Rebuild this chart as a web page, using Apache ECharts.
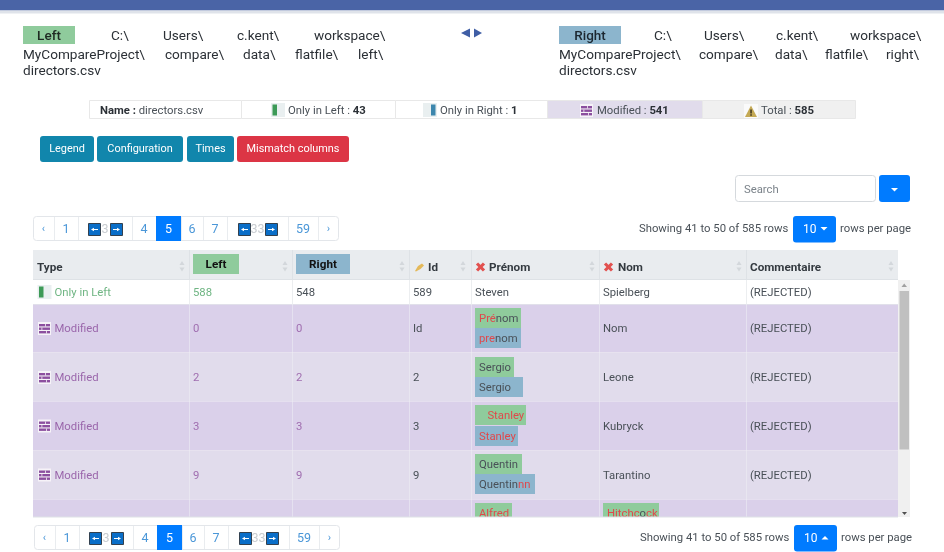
<!DOCTYPE html>
<html>
<head>
<meta charset="utf-8">
<style>
  html, body { margin: 0; padding: 0; background: #fff; }
  #main { width: 944px; height: 552px; }
</style>
<script src="https://cdn.jsdelivr.net/npm/echarts@6/dist/echarts.min.js"></script>
</head>
<body>
<div id="main"></div>
<script>
// texts, [..] marks the changed letters
const leftPath = ['C:\\', 'Users\\', 'c.kent\\', 'workspace\\', 'MyCompareProject\\', 'compare\\', 'data\\', 'flatfile\\', 'left\\', 'directors.csv']
const rightPath = ['C:\\', 'Users\\', 'c.kent\\', 'workspace\\', 'MyCompareProject\\', 'compare\\', 'data\\', 'flatfile\\', 'right\\', 'directors.csv']
const statLabels = ['Name : ', 'Only in Left : ', 'Only in Right : ', 'Modified : ', 'Total : ']
const statValues = ['directors.csv', 43, 1, 541, 585]
const buttonLabels = ['Legend', 'Configuration', 'Times', 'Mismatch columns']
const pageLabels = ['‹', '1', '3', '4', '5', '6', '7', '33', '59', '›']
const headers = ['Type', 'Left', 'Right', 'Id', 'Prénom', 'Nom', 'Commentaire']
const rowTypes = ['Only in Left', 'Modified', 'Modified', 'Modified', 'Modified', 'Modified']
const leftValues = [588, 0, 2, 3, 9]
const rightValues = [548, 0, 2, 3, 9]
const idValues = [589, 'Id', 2, 3, 9]
const prenomLeft = ['Steven', '[Pré]nom', 'Sergio', '[   Stanley]', 'Quentin', '[Alfred]']
const prenomRight = [null, '[pre]nom', 'Sergio', '[Stanley]', 'Quentin[nn]']
const nomLeft = ['Spielberg', 'Nom', 'Leone', 'Kubryck', 'Tarantino', '[Hitchc]o[ck]']
const comments = ['(REJECTED)', '(REJECTED)', '(REJECTED)', '(REJECTED)', '(REJECTED)']
const showing = 'Showing 41 to 50 of 585 rows'
const perPage = 'rows per page'

const FONT = 'Roboto, sans-serif'
const BODY = 11.3
const TEXT = '#495057'
const RED = '#e0484c'
const GREEN_BADGE = '#8fcb9c'
const BLUE_BADGE = '#8cb5cd'
const PURPLE_A = '#dad0ea'
const PURPLE_B = '#e1dcec'

const els = []

function box(x, y, w, h, fill, stroke, r) {
  els.push({
    type: 'rect',
    shape: { x, y, width: w, height: h, r: r || 0 },
    style: { fill: fill || 'transparent', stroke: stroke || null, lineWidth: stroke ? 1 : 0 },
    silent: true
  })
}

function label(text, x, y, opt) {
  opt = opt || {}
  els.push({
    type: 'text',
    x,
    y: y + 0.7,
    silent: true,
    style: {
      text: String(text),
      fontFamily: FONT,
      fontSize: opt.size || BODY,
      fontWeight: opt.weight || 400,
      fill: opt.color || TEXT,
      align: opt.align || 'left',
      verticalAlign: 'middle',
      rich: opt.rich
    }
  })
}

function poly(points, fill) {
  els.push({ type: 'polygon', shape: { points }, style: { fill }, silent: true })
}

// turns 'Quentin[nn]' into rich text, changed letters in red
function diffText(str, x, y) {
  const s = str.replace(/ /g, '\u00a0').replace(/\[/g, '{c|').replace(/\]/g, '}')
    .replace(/(^|\})([^{}]+)(?=\{|$)/g, '$1{n|$2}')
  label(s, x, y, {
    rich: {
      c: { fill: RED, fontFamily: FONT, fontSize: BODY },
      n: { fill: TEXT, fontFamily: FONT, fontSize: BODY }
    }
  })
}

function pathWords(words, xs, y0) {
  words.forEach((w, i) => {
    const y = i < 4 ? y0 : i < 9 ? y0 + 19 : y0 + 35
    label(w, xs[i], y, { size: 13.6, color: '#2b3036' })
  })
}

function iconOnlyLeft(x, y) {
  box(x, y, 14, 14, '#e9eff0')
  box(x + 1.5, y + 1.5, 4.5, 11, '#3d9a57')
}

function iconOnlyRight(x, y) {
  box(x, y, 14, 14, '#e9eff0')
  box(x + 8, y + 1.5, 4.5, 11, '#3d86ad')
}

function iconModified(x, y) {
  box(x, y, 13, 13, '#f6f3f8')
  box(x + 1, y + 2, 11, 2.4, '#8c4f9f')
  box(x + 1, y + 5.5, 11, 2.4, '#8c4f9f')
  box(x + 1, y + 9, 11, 2.4, '#8c4f9f')
  box(x + 7, y + 2, 0.8, 2.4, '#f6f3f8')
  box(x + 3.5, y + 5.5, 0.8, 2.4, '#f6f3f8')
  box(x + 8, y + 9, 0.8, 2.4, '#f6f3f8')
}

function iconWarn(x, y) {
  box(x, y, 14, 14, '#fafafa')
  poly([[x + 7, y + 1.5], [x + 13, y + 13], [x + 1, y + 13]], '#c4a955')
  box(x + 6.3, y + 5.5, 1.5, 4, '#3a3320')
  box(x + 6.3, y + 10.3, 1.5, 1.5, '#3a3320')
}

function iconCross(cx, cy) {
  const a = 4.6, b = 2.2
  poly([[cx - a, cy - a + b], [cx - a + b, cy - a], [cx + a, cy + a - b], [cx + a - b, cy + a]], '#e2514f')
  poly([[cx + a, cy - a + b], [cx + a - b, cy - a], [cx - a, cy + a - b], [cx - a + b, cy + a]], '#e2514f')
}

function navSquare(x, y, dir) {
  box(x + 0.5, y + 0.5, 12, 12, '#0a6ec8', '#33414f')
  const m = y + 6.5
  if (dir < 0) poly([[x + 3, m], [x + 6, m - 1.8], [x + 6, m - 0.6], [x + 10, m - 0.6], [x + 10, m + 0.6], [x + 6, m + 0.6], [x + 6, m + 1.8]], '#fff')
  else poly([[x + 10, m], [x + 7, m - 1.8], [x + 7, m - 0.6], [x + 3, m - 0.6], [x + 3, m + 0.6], [x + 7, m + 0.6], [x + 7, m + 1.8]], '#fff')
}

function pagination(dx, y) {
  const edges = [33, 54, 78, 132, 156, 181, 203, 227, 288, 318, 339].map(v => v + dx)
  box(edges[0] + 0.5, y + 0.5, edges[10] - edges[0] - 1, 24, '#fff', '#e3e6ea', 3)
  edges.slice(1, 10).forEach(e => box(e, y + 1, 1, 23, '#e9ecef'))
  box(edges[4], y, edges[5] - edges[4], 25, '#007bff')
  pageLabels.forEach((p, i) => {
    const cx = (edges[i] + edges[i + 1]) / 2
    const color = i === 4 ? '#fff' : (p === '3' || p === '33') ? '#c8ccd0' : '#4b97d8'
    label(p, cx, y + 13, { align: 'center', color, size: i === 0 || i === 9 ? 11 : 12.5 })
  })
  navSquare(88 + dx, y + 7, -1)
  navSquare(110 + dx, y + 7, 1)
  navSquare(238 + dx, y + 7, -1)
  navSquare(265 + dx, y + 7, 1)
}

function rowsPerPage(dx, y, up) {
  label(showing, 639 + dx, y)
  box(793 + dx, y - 12, 43, 26.5, '#007bff', null, 3)
  label('10', 803 + dx, y + 1, { color: '#fff', size: 12 })
  const c = 824 + dx
  poly(up ? [[c - 3.5, y + 2.5], [c + 3.5, y + 2.5], [c, y - 1]] : [[c - 3.5, y - 1], [c + 3.5, y - 1], [c, y + 2.5]], '#fff')
  label(perPage, 840 + dx, y)
}

function sortMark(x) {
  poly([[x - 2.5, 265], [x + 2.5, 265], [x, 261]], '#d3d7db')
  poly([[x - 2.5, 267.5], [x + 2.5, 267.5], [x, 271.5]], '#d3d7db')
}

// top band
box(0, 0, 944, 10.5, '#4a64a6')
box(0, 10.5, 944, 3, '#dfe3ea')

// file headers
box(23, 26, 52, 18, GREEN_BADGE)
label('Left', 49, 35.5, { align: 'center', size: 13.5, color: '#1f2a22', weight: 500 })
pathWords(leftPath, [111, 163, 237, 314, 23, 165, 243, 295, 358, 23], 35.5)
box(559, 26, 62, 18, BLUE_BADGE)
label('Right', 590, 35.5, { align: 'center', size: 13.5, color: '#1c2730', weight: 500 })
pathWords(rightPath, [654, 704, 776, 850, 559, 699, 775, 825, 886, 559], 35.5)
poly([[461, 33], [470, 28.5], [470, 37.5]], '#3f5ea5')
poly([[482, 33], [474, 28.5], [474, 37.5]], '#3f5ea5')

// stats strip
const statEdges = [89, 241, 395, 547, 702, 855]
const statFills = ['#fff', '#fff', '#fff', PURPLE_B, '#f0f0f0']
const statX = [100, 288, 440, 597, 761]
statLabels.forEach((s, i) => {
  box(statEdges[i] + 0.5, 100.5, statEdges[i + 1] - statEdges[i], 18, statFills[i], '#e8e8e8')
  const bold = i === 0
  label(`{a|${s}}{b|${statValues[i]}}`, statX[i], 110, {
    rich: {
      a: { fontFamily: FONT, fontSize: BODY, fill: i === 0 ? '#2b3036' : TEXT, fontWeight: bold ? 700 : 400 },
      b: { fontFamily: FONT, fontSize: BODY, fill: i === 0 ? TEXT : '#2b3036', fontWeight: bold ? 400 : 700 }
    }
  })
})
iconOnlyLeft(271, 103)
iconOnlyRight(423, 103)
iconModified(580, 104)
iconWarn(744, 104)

// buttons
const btnEdges = [[40, 94], [97, 183], [187, 234], [237, 349]]
buttonLabels.forEach((b, i) => {
  box(btnEdges[i][0], 136, btnEdges[i][1] - btnEdges[i][0], 26, i === 3 ? '#dc3545' : '#1186ac', null, 3)
  label(b, (btnEdges[i][0] + btnEdges[i][1]) / 2, 149, { align: 'center', color: '#fff', size: 10.9 })
})

// search
box(735.5, 175.5, 140, 26, '#fff', '#d5d9dd', 3)
label('Search', 744, 189, { color: '#7b838a' })
box(879, 175, 31, 27, '#007bff', null, 3)
poly([[891, 188], [898, 188], [894.5, 191.5]], '#fff')

pagination(0, 216)
rowsPerPage(0, 228, false)

// table
const colEdges = [33, 189, 292, 409, 471, 599, 746, 898]
const rowEdges = [280, 304, 352, 401, 450, 499, 517]
const rowFills = ['#fff', PURPLE_A, PURPLE_B, PURPLE_A, PURPLE_B, PURPLE_A]
const cellX = colEdges.map(v => v + 4)

box(33, 250, 865, 29, '#e9ecef')
box(33, 279, 865, 1, '#dee2e6')
rowFills.forEach((f, r) => {
  box(33, rowEdges[r], 865, rowEdges[r + 1] - rowEdges[r], f)
  if (r > 0) box(33, rowEdges[r], 865, 0.7, r === 1 ? '#e3e6ea' : '#e8e4f0')
})
colEdges.slice(1, 7).forEach(x => {
  box(x, 250, 1, 30, '#dee2e6')
  box(x, 280, 1, 24, '#eceef0')
  box(x, 304, 1, 213, 'rgba(238,238,244,0.55)')
})

box(193, 254, 46, 20, GREEN_BADGE)
box(296, 254, 54, 20, BLUE_BADGE)
const HEAD = 11.7
label(headers[0], 37, 267, { weight: 700, color: '#343a40', size: HEAD })
label(headers[1], 216, 264.5, { weight: 700, color: '#111', align: 'center', size: HEAD })
label(headers[2], 323, 264.5, { weight: 700, color: '#111', align: 'center', size: HEAD })
label(headers[3], 428, 267, { weight: 700, color: '#343a40', size: HEAD })
label(headers[4], 489, 267, { weight: 700, color: '#343a40', size: HEAD })
label(headers[5], 618, 267, { weight: 700, color: '#343a40', size: HEAD })
label(headers[6], 750, 267, { weight: 700, color: '#343a40', size: HEAD })
;[182, 285, 402, 463, 592, 739, 891].forEach(sortMark)
poly([[415, 271], [418, 266], [422, 263.5], [424, 265.5], [420.5, 269], [416, 271.5]], '#e4b95a')
iconCross(480.5, 267)
iconCross(608.5, 267)

// rows
const rowMid = [292, 328.5, 377.5, 426, 475, 513]
rowTypes.forEach((t, r) => {
  if (r === 5) return
  const y = rowMid[r]
  const isLeft = t === 'Only in Left'
  const typeColor = isLeft ? '#6fb583' : '#9a66ab'
  if (isLeft) iconOnlyLeft(37.5, y - 7)
  else iconModified(38, y - 6.5)
  label(t, 54.5, y, { color: typeColor })
  label(leftValues[r], cellX[1], y, { color: isLeft ? '#6fb583' : '#a06eb0' })
  label(rightValues[r], cellX[2], y, { color: isLeft ? TEXT : '#a06eb0' })
  label(idValues[r], cellX[3], y)
  label(nomLeft[r], cellX[5], y)
  label(comments[r], cellX[6], y)
})
label(prenomLeft[0], cellX[4], rowMid[0])

// two line badges of the Prénom column
const greenBadge = [null, [308, 46], [357, 39], [405, 51], [454, 47], [503, 37]]
const blueBadge = [null, [328, 46], [377, 48], [426, 43], [474, 60]]
for (let r = 1; r < 6; r++) {
  box(475, greenBadge[r][0], greenBadge[r][1], 20, GREEN_BADGE)
  diffText(prenomLeft[r], 479, greenBadge[r][0] + 10)
  if (blueBadge[r]) {
    box(475, blueBadge[r][0], blueBadge[r][1], 20, BLUE_BADGE)
    diffText(prenomRight[r], 479, blueBadge[r][0] + 10)
  }
}
box(603, 503, 56, 20, GREEN_BADGE)
diffText(nomLeft[5], 607, 513)

// scrollbar
box(898, 280, 12, 237, '#f0f0f0')
box(899.5, 291, 9.5, 158.5, '#c0c0c0')
poly([[904.2, 283.5], [907, 287], [901.5, 287]], '#a0a0a0')
poly([[902, 512], [907, 512], [904.5, 515]], '#505050')

// hides what is scrolled out of the table
box(0, 517, 944, 35, '#fff')
box(33, 516.5, 865, 1, '#dee2e6')

pagination(1, 525)
rowsPerPage(1, 537, true)

const chart = echarts.init(document.getElementById('main'), null, { renderer: 'canvas' })
chart.setOption({
  animation: false,
  backgroundColor: '#fff',
  graphic: { elements: els }
})
</script>
</body>
</html>
